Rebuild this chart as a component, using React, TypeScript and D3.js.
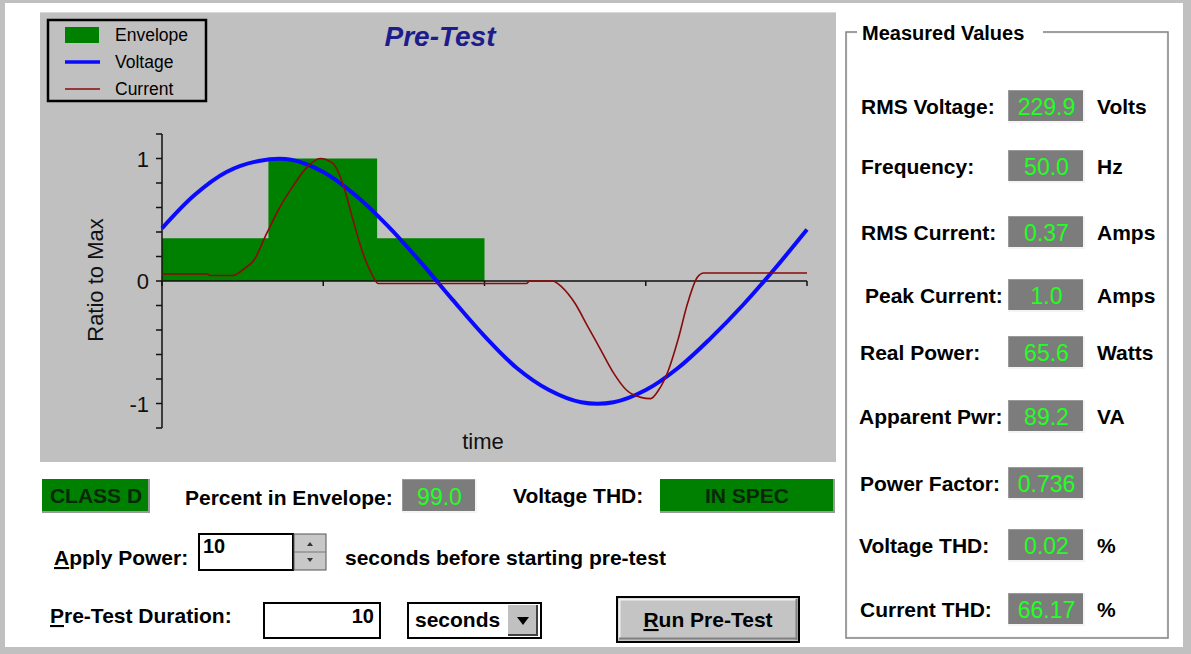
import React from "react";
import * as d3 from "d3";

// ---------- data ----------
const xTickValues = [0, 5, 10, 15, 20];
const yTickValues = [-1.2, -1, -0.8, -0.6, -0.4, -0.2, 0, 0.2, 0.4, 0.6, 0.8, 1, 1.2];
const yTickLabels = [-1, 0, 1];

const envelopeEdges = [0, 3.3, 6.67, 10];
const envelopeLevels = [0.35, 1.0, 0.35];

const voltageTime = [0, 1, 2, 3, 4, 5, 6, 7, 8, 9, 10, 11, 12, 13, 14, 15, 16, 17, 18, 19, 20];
const voltageValues = [0.43, 0.7, 0.89, 0.98, 0.99, 0.89, 0.7, 0.45, 0.16, -0.15, -0.45, -0.71, -0.89, -0.99, -0.99, -0.89, -0.71, -0.47, -0.2, 0.1, 0.42];

const currentTime = [0, 1.4, 1.5, 2.2, 2.55, 2.85, 3.25, 3.65, 4.05, 4.5, 4.9, 5.3, 5.6, 5.9, 6.2, 6.5, 6.7, 11.3, 11.4, 12.1, 12.4, 12.8, 13.2, 13.6, 14.0, 14.4, 14.85, 15.15, 15.4, 15.7, 16.0, 16.3, 16.6, 16.8, 20];
const currentValues = [0.057, 0.057, 0.045, 0.045, 0.1, 0.17, 0.39, 0.6, 0.77, 0.93, 1.0, 0.96, 0.8, 0.52, 0.25, 0.06, -0.02, -0.02, 0, 0, -0.05, -0.18, -0.37, -0.56, -0.75, -0.89, -0.95, -0.96, -0.89, -0.73, -0.48, -0.18, 0.03, 0.065, 0.065];

const legendNames = ["Envelope", "Voltage", "Current"];

const measuredLabels = ["RMS Voltage:", "Frequency:", "RMS Current:", "Peak Current:", "Real Power:", "Apparent Pwr:", "Power Factor:", "Voltage THD:", "Current THD:"];
const measuredValues = ["229.9", "50.0", "0.37", "1.0", "65.6", "89.2", "0.736", "0.02", "66.17"];
const measuredUnits = ["Volts", "Hz", "Amps", "Amps", "Watts", "VA", "", "%", "%"];

const classLabel = "CLASS D";
const percentInEnvelope = "99.0";
const voltageThdStatus = "IN SPEC";
const applyPowerSeconds = "10";
const durationValue = "10";
const durationUnit = "seconds";

// ---------- layout ----------
const FONT = "'Liberation Sans', Arial, sans-serif";
const GREEN = "#008000";
const mvBaselines = [114, 174, 240, 303, 360, 424, 491, 553, 617];
const mvLabelX = [861, 861, 861, 865, 860, 859, 860, 859, 860];

function ValueBox({ x, y, w, h, text }: { x: number; y: number; w: number; h: number; text: string }) {
  return (
    <g>
      <rect x={x} y={y} width={w} height={h} fill="#7c7c7c" />
      <line x1={x} y1={y + 0.5} x2={x + w} y2={y + 0.5} stroke="#9a9a9a" />
      <line x1={x + 0.5} y1={y} x2={x + 0.5} y2={y + h} stroke="#9a9a9a" />
      <line x1={x + w - 1} y1={y} x2={x + w - 1} y2={y + h} stroke="#f4f4f4" strokeWidth={2} />
      <line x1={x} y1={y + h - 1} x2={x + w} y2={y + h - 1} stroke="#f4f4f4" strokeWidth={2} />
      <text x={x + w / 2} y={y + h - 8} textAnchor="middle" fill="#22ff22" fontSize={23} fontFamily={FONT}>
        {text}
      </text>
    </g>
  );
}

export default function App() {
  const x = d3.scaleLinear().domain([0, 20]).range([162, 807]);
  const y = d3.scaleLinear().domain([-1.2, 1.2]).range([428, 134]);

  const voltagePts = voltageTime.map((t, i) => [t, voltageValues[i]] as [number, number]);
  const currentPts = currentTime.map((t, i) => [t, currentValues[i]] as [number, number]);
  const envPts = envelopeEdges.map(
    (t, i) => [t, envelopeLevels[Math.min(i, envelopeLevels.length - 1)]] as [number, number]
  );

  const vLine = d3
    .line<[number, number]>()
    .x((d) => x(d[0]))
    .y((d) => y(d[1]))
    .curve(d3.curveCatmullRom);
  const cLine = d3
    .line<[number, number]>()
    .x((d) => x(d[0]))
    .y((d) => y(d[1]))
    .curve(d3.curveMonotoneX);
  const envArea = d3
    .area<[number, number]>()
    .x((d) => x(d[0]))
    .y0(y(0))
    .y1((d) => y(d[1]))
    .curve(d3.curveStepAfter);

  const boldText = { fontFamily: FONT, fontWeight: 700, fontSize: 21, fill: "#000" } as const;

  return (
    <svg width={1191} height={654} style={{ position: "absolute", left: 0, top: 0 }}>
      {/* window frame */}
      <rect x={0} y={0} width={1191} height={654} fill="#c0c0c0" />
      <rect x={5} y={3} width={1178} height={644} fill="#ffffff" />

      {/* plot panel */}
      <rect x={40} y={12} width={796} height={450} fill="#c0c0c0" />
      <line x1={40} y1={12.5} x2={836} y2={12.5} stroke="#d8d8d8" />

      {/* envelope */}
      <path d={envArea(envPts) || ""} fill={GREEN} />

      {/* axes */}
      <line x1={x(0)} y1={y(0)} x2={x(20)} y2={y(0)} stroke="#111" strokeWidth={1.5} />
      {xTickValues.map((t) => (
        <line key={"xt" + t} x1={x(t)} y1={y(0)} x2={x(t)} y2={y(0) + 5} stroke="#111" strokeWidth={1.5} />
      ))}
      <line x1={x(0)} y1={y(1.2)} x2={x(0)} y2={y(-1.2)} stroke="#111" strokeWidth={1.5} />
      {yTickValues.map((v) => (
        <line key={"yt" + v} x1={x(0) - 6} y1={y(v)} x2={x(0)} y2={y(v)} stroke="#111" strokeWidth={1.5} />
      ))}
      {yTickLabels.map((v) => (
        <text key={"yl" + v} x={149} y={y(v) + 8} textAnchor="end" fontSize={22} fontFamily={FONT} fill="#111">
          {v}
        </text>
      ))}

      {/* series */}
      <path d={vLine(voltagePts) || ""} fill="none" stroke="#0a0aff" strokeWidth={4} />
      <path d={cLine(currentPts) || ""} fill="none" stroke="#8b0a0a" strokeWidth={1.6} />

      {/* axis titles */}
      <text x={483} y={449} textAnchor="middle" fontSize={22} fontFamily={FONT} fill="#111">
        time
      </text>
      <text transform="translate(103,280) rotate(-90)" textAnchor="middle" fontSize={22} fontFamily={FONT} fill="#111">
        Ratio to Max
      </text>

      {/* title */}
      <text x={440} y={46} textAnchor="middle" fontSize={28} fontStyle="italic" fontWeight={700} fontFamily={FONT} fill="#1c1c8c">
        Pre-Test
      </text>

      {/* legend */}
      <rect x={48} y={20} width={158} height={81} fill="none" stroke="#000" strokeWidth={2.5} />
      <rect x={65} y={27} width={34} height={16} fill={GREEN} />
      <line x1={65} y1={62} x2={100} y2={62} stroke="#0a0aff" strokeWidth={3.5} />
      <line x1={65} y1={89} x2={100} y2={89} stroke="#8b0a0a" strokeWidth={1.6} />
      {legendNames.map((n, i) => (
        <text key={n} x={115} y={41 + i * 27} fontSize={17.5} fontFamily={FONT} fill="#000">
          {n}
        </text>
      ))}

      {/* status row */}
      <rect x={42} y={479} width={108} height={33} fill={GREEN} />
      <line x1={149} y1={479} x2={149} y2={513} stroke="#9a9a9a" strokeWidth={2} />
      <line x1={42} y1={512} x2={150} y2={512} stroke="#9a9a9a" strokeWidth={2} />
      <text x={96} y={503} textAnchor="middle" {...boldText} fill="#082808">
        {classLabel}
      </text>
      <text x={185} y={505} {...boldText}>
        Percent in Envelope:
      </text>
      <ValueBox x={402} y={479} w={75} h={34} text={percentInEnvelope} />
      <text x={513} y={503} {...boldText}>
        Voltage THD:
      </text>
      <rect x={660} y={479} width={175} height={34} fill={GREEN} />
      <line x1={834} y1={479} x2={834} y2={513} stroke="#9a9a9a" strokeWidth={2} />
      <line x1={660} y1={512} x2={835} y2={512} stroke="#9a9a9a" strokeWidth={2} />
      <text x={747} y={503} textAnchor="middle" {...boldText} fill="#082808">
        {voltageThdStatus}
      </text>

      {/* apply power row */}
      <text x={54} y={565} {...boldText}>
        <tspan textDecoration="underline">A</tspan>pply Power:
      </text>
      <rect x={199} y={534} width={94} height={36} fill="#fff" stroke="#000" strokeWidth={2} />
      <text x={203} y={553} {...boldText} fontSize={20}>
        {applyPowerSeconds}
      </text>
      <rect x={294} y={534} width={32} height={36} fill="#c8c8c8" stroke="#555" strokeWidth={1} />
      <line x1={294} y1={552} x2={326} y2={552} stroke="#777" />
      <path d="M307,546 L313,546 L310,542 Z" fill="#333" />
      <path d="M307,558 L313,558 L310,562 Z" fill="#333" />
      <text x={345} y={565} {...boldText}>
        seconds before starting pre-test
      </text>

      {/* duration row */}
      <text x={50} y={623} {...boldText}>
        <tspan textDecoration="underline">P</tspan>re-Test Duration:
      </text>
      <rect x={264} y={603} width={116} height={35} fill="#fff" stroke="#000" strokeWidth={2} />
      <text x={374} y={623} textAnchor="end" {...boldText} fontSize={20}>
        {durationValue}
      </text>
      <rect x={408} y={603} width={133} height={35} fill="#fff" stroke="#000" strokeWidth={2} />
      <text x={415} y={627} {...boldText}>
        {durationUnit}
      </text>
      <rect x={508} y={605} width={30} height={31} fill="#c0c0c0" />
      <line x1={508} y1={635} x2={538} y2={635} stroke="#404040" strokeWidth={2} />
      <line x1={537} y1={605} x2={537} y2={636} stroke="#404040" strokeWidth={2} />
      <path d="M517,617 L529,617 L523,625 Z" fill="#000" />

      {/* run button */}
      <rect x={617} y={597} width={182} height={45} fill="#c4c4c4" stroke="#000" strokeWidth={2} />
      <line x1={619} y1={599.5} x2={796} y2={599.5} stroke="#f0f0f0" strokeWidth={2} />
      <line x1={619.5} y1={599} x2={619.5} y2={639} stroke="#f0f0f0" strokeWidth={2} />
      <line x1={619} y1={638.5} x2={797} y2={638.5} stroke="#808080" strokeWidth={2} />
      <line x1={796.5} y1={599} x2={796.5} y2={640} stroke="#808080" strokeWidth={2} />
      <text x={708} y={627} textAnchor="middle" {...boldText}>
        <tspan textDecoration="underline">R</tspan>un Pre-Test
      </text>

      {/* measured values group */}
      <rect x={846} y={32} width={322} height={606} fill="none" stroke="#808080" strokeWidth={1.5} />
      <rect x={847.5} y={33.5} width={319} height={603} fill="none" stroke="#f6f6f6" strokeWidth={1} />
      <rect x={857} y={22} width={186} height={22} fill="#fff" />
      <text x={862} y={40} {...boldText} fontSize={20}>
        Measured Values
      </text>
      {measuredLabels.map((lab, i) => (
        <g key={lab}>
          <text x={mvLabelX[i]} y={mvBaselines[i]} {...boldText}>
            {lab}
          </text>
          <ValueBox x={1008} y={mvBaselines[i] - 24} w={77} h={33} text={measuredValues[i]} />
          {measuredUnits[i] && (
            <text x={1097} y={mvBaselines[i]} {...boldText}>
              {measuredUnits[i]}
            </text>
          )}
        </g>
      ))}
    </svg>
  );
}
